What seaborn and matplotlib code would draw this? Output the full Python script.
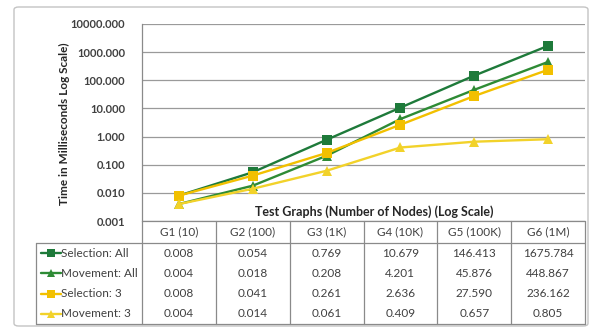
import matplotlib
matplotlib.use("Agg")
import matplotlib.pyplot as plt
from matplotlib.lines import Line2D
from matplotlib.patches import FancyBboxPatch
from matplotlib.ticker import FixedLocator, FuncFormatter
import seaborn as sns
import pandas as pd

graphs = ["G1 (10)", "G2 (100)", "G3 (1K)", "G4 (10K)", "G5 (100K)", "G6 (1M)"]
series_names = ["Selection: All", "Movement: All", "Selection: 3", "Movement: 3"]
selection_all = [0.008, 0.054, 0.769, 10.679, 146.413, 1675.784]
movement_all = [0.004, 0.018, 0.208, 4.201, 45.876, 448.867]
selection_3 = [0.008, 0.041, 0.261, 2.636, 27.590, 236.162]
movement_3 = [0.004, 0.014, 0.061, 0.409, 0.657, 0.805]
y_ticks = [0.001, 0.01, 0.1, 1, 10, 100, 1000, 10000]

series_values = [selection_all, movement_all, selection_3, movement_3]
colors = ["#1E7A3A", "#2E8B35", "#F2C000", "#F2D22A"]
markers = ["s", "^", "s", "^"]

rows = []
for name, vals in zip(series_names, series_values):
    for i, v in enumerate(vals):
        rows.append({"graph": i, "series": name, "time": v})
df = pd.DataFrame(rows)

sns.set_theme(style="white")
plt.rcParams["font.family"] = ["Lato", "DejaVu Sans"]

W, H = 590, 333
fig = plt.figure(figsize=(W / 100, H / 100), dpi=100)


def fx(x):
    return x / W


def fy(y):
    return 1 - y / H


# chart frame
fig.patches.append(FancyBboxPatch((fx(14), fy(326)), fx(574), (326 - 7) / H,
                                  boxstyle="round,pad=0,rounding_size=0.008",
                                  transform=fig.transFigure, fill=False,
                                  edgecolor="#C4C4C4", linewidth=1.0))

left, right, top, bottom = 142, 585, 24, 221
ax = fig.add_axes([fx(left), fy(bottom), (right - left) / W, (bottom - top) / H])

sns.lineplot(data=df, x="graph", y="time", hue="series", style="series",
             hue_order=series_names, style_order=series_names,
             palette=dict(zip(series_names, colors)),
             markers=dict(zip(series_names, markers)), dashes=False,
             markersize=7, markeredgewidth=0, linewidth=1.7,
             legend=False, ax=ax)

ax.set_yscale("log")
ax.set_ylim(0.001, 10000)
ax.set_xlim(-0.5, 5.5)
ax.yaxis.set_major_locator(FixedLocator(y_ticks))
ax.yaxis.set_minor_locator(FixedLocator([]))
ax.yaxis.set_major_formatter(FuncFormatter(lambda v, p: f"{v:.3f}"))
ax.set_xticks([])
ax.set_xlabel("")
ax.set_ylabel("")
ax.grid(axis="y", color="#9A9A9A", linewidth=0.9)
ax.set_axisbelow(True)
for s in ["top", "right", "bottom"]:
    ax.spines[s].set_visible(False)
ax.spines["left"].set_color("#8A8A8A")
ax.spines["left"].set_linewidth(0.9)
ax.tick_params(axis="y", length=0, pad=12, labelsize=8, labelcolor="#404040")
for lab in ax.get_yticklabels():
    lab.set_fontweight("bold")

fig.text(fx(64), fy(124), "Time in Milliseconds Log Scale)", rotation=90,
         ha="center", va="center", fontsize=8.5, fontweight="bold", color="#262626")
fig.text(fx(374), fy(212), "Test Graphs (Number of Nodes) (Log Scale)",
         ha="center", va="center", fontsize=9, fontweight="bold", color="#262626")

# data table under the plot
line_kw = dict(transform=fig.transFigure, color="#8A8A8A", linewidth=0.9)
col_w = (right - left) / len(graphs)
head_top, head_bot, tab_bot = 221, 243, 324
leg_left = 36
fig.add_artist(Line2D([fx(left), fx(right)], [fy(head_top)] * 2, **line_kw))
fig.add_artist(Line2D([fx(leg_left), fx(right)], [fy(head_bot)] * 2, **line_kw))
fig.add_artist(Line2D([fx(leg_left), fx(right)], [fy(tab_bot)] * 2, **line_kw))
fig.add_artist(Line2D([fx(leg_left)] * 2, [fy(head_bot), fy(tab_bot)], **line_kw))
for j in range(len(graphs) + 1):
    x = left + j * col_w
    fig.add_artist(Line2D([fx(x)] * 2, [fy(head_top), fy(tab_bot)], **line_kw))

txt_kw = dict(ha="center", va="center", fontsize=8.5, color="#404040")
for j, g in enumerate(graphs):
    cx = left + (j + 0.5) * col_w
    fig.text(fx(cx), fy((head_top + head_bot) / 2), g, **txt_kw)

row_h = (tab_bot - head_bot) / len(series_names)
for i, (name, vals, c, m) in enumerate(zip(series_names, series_values, colors, markers)):
    cy = head_bot + (i + 0.5) * row_h
    fig.add_artist(Line2D([fx(41), fx(61)], [fy(cy)] * 2, transform=fig.transFigure,
                          color=c, linewidth=1.7))
    fig.add_artist(Line2D([fx(51)], [fy(cy)], transform=fig.transFigure,
                          color=c, marker=m, markersize=5.5, markeredgewidth=0))
    fig.text(fx(61), fy(cy), name, ha="left", va="center", fontsize=8.5, color="#404040")
    for j, v in enumerate(vals):
        cx = left + (j + 0.5) * col_w
        fig.text(fx(cx), fy(cy), f"{v:.3f}", **txt_kw)

fig.savefig("out.png", dpi=100)
